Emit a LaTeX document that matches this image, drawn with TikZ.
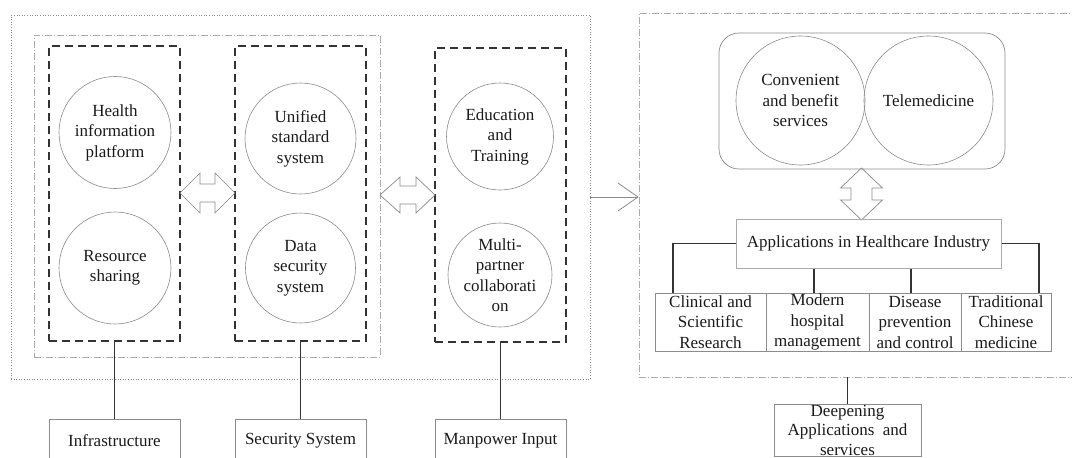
\documentclass[tikz,border=0pt]{standalone}
\usepackage{fontspec}
\setmainfont{Liberation Serif}
\usetikzlibrary{arrows.meta,calc}
\definecolor{conncol}{HTML}{333333}
\definecolor{circcol}{HTML}{8A8A8A}
\definecolor{boxcol}{HTML}{8C8C8C}
\definecolor{lightcol}{HTML}{ABABAB}
\definecolor{txtcol}{HTML}{1A1A1A}
\begin{document}
\begin{tikzpicture}[x=1pt,y=-1pt,
  every node/.style={font=\fontsize{17}{20.5}\selectfont, text=txtcol, inner sep=0pt, align=center},
  outerbox/.style={draw=boxcol, line width=0.6pt, dotted},
  dashdotbox/.style={draw=lightcol, line width=0.7pt, dash pattern=on 7pt off 2pt on 1pt off 2pt},
  dashbox/.style={draw=conncol, line width=1.8pt, dash pattern=on 8pt off 5pt},
  circ/.style={circle, draw=circcol, line width=0.6pt},
  plainbox/.style={draw=boxcol, line width=0.7pt, rectangle},
  appbox/.style={draw=lightcol, line width=1pt, rectangle},
  conn/.style={draw=conncol, line width=1.8pt},
  dblarrow/.style={draw=circcol, line width=0.7pt, line join=miter},
]
\useasboundingbox (0,0) rectangle (1072,458);

% ---------- left part ----------
\node[outerbox, minimum width=579, minimum height=364] (outer) at (300.5,197) {};
\node[dashdotbox, minimum width=346, minimum height=322] (inner) at (207,196) {};

\node[dashbox, minimum width=131, minimum height=295] (d1) at (114.5,193.5) {};
\node[dashbox, minimum width=131, minimum height=295] (d2) at (300.5,193.5) {};
\node[dashbox, minimum width=131, minimum height=294] (d3) at (500.5,195) {};

\node[circ, minimum size=112] (c1) at (115,132.5) {Health\\information\\platform};
\node[circ, minimum size=112] (c2) at (115,268) {Resource\\sharing};
\node[circ, minimum size=111] (c3) at (300.5,138.5) {Unified\\standard\\system};
\node[circ, minimum size=110] (c4) at (300.5,268) {Data\\security\\system};
\node[circ, minimum size=107] (c5) at (500,136.5) {Education\\and\\Training};
\node[circ, minimum size=104] (c6) at (500,275) {Multi-\\partner\\collaborati\\on};

% double arrows
\draw[dblarrow] (180,193) -- (200,173) -- (200,184) -- (215,184) -- (215,173) -- (235,193)
  -- (215,213) -- (215,202) -- (200,202) -- (200,213) -- cycle;
\draw[dblarrow] (380,195) -- (400,177) -- (400,186) -- (416,186) -- (416,177) -- (435,195)
  -- (416,213) -- (416,204) -- (400,204) -- (400,213) -- cycle;

\node[plainbox, minimum width=131, minimum height=43] (b1) at (114.5,440.5) {Infrastructure};
\node[plainbox, minimum width=131, minimum height=43] (b2) at (300.5,440.5) {Security System};
\node[plainbox, minimum width=131, minimum height=43] (b3) at (500.5,440.5) {Manpower Input};

\draw[conn] (d1.south) -- (b1.north);
\draw[conn] (d2.south) -- (b2.north);
\draw[conn] (d3.south) -- (b3.north);

% ---------- right part ----------
\node[dashdotbox, minimum width=446, minimum height=364] (rbox) at (862,195) {};

\draw[draw=circcol, line width=0.8pt, -{Straight Barb[length=20pt, width=28pt, line width=0.8pt]}]
  (outer.east) -- (outer.east -| rbox.west);

\node[draw=boxcol, line width=0.7pt, rounded corners=20pt, minimum width=286, minimum height=136] (rr) at (862,101) {};
\node[circ, minimum size=129] (conv) at (800.5,100.5) {Convenient\\and benefit\\services};
\node[circ, minimum size=129] (tele) at (928.5,100.5) {Telemedicine};

\draw[dblarrow] (861.5,168) -- (882.5,188) -- (872,188) -- (872,200) -- (882.5,200) -- (861.5,220)
  -- (840.5,200) -- (851,200) -- (851,188) -- (840.5,188) -- cycle;

\node[appbox, minimum width=265, minimum height=49] (apps) at (868.5,243.5) {Applications in Healthcare Industry};

\node[plainbox, minimum width=111, minimum height=58] (clin) at (710.5,322) {Clinical and\\Scientific\\Research};
\node[plainbox, minimum width=103, minimum height=58] (mod) at (817.5,322) {Modern\\hospital\\management};
\node[plainbox, minimum width=92, minimum height=58] (dis) at (915,322) {Disease\\prevention\\and control};
\node[plainbox, minimum width=90, minimum height=58] (tcm) at (1006,322) {Traditional\\Chinese\\medicine};

\coordinate (clintop) at ($(clin.north west)!0.162!(clin.north east)$);
\coordinate (modtop) at ($(mod.north west)!0.466!(mod.north east)$);
\coordinate (distop) at ($(dis.north west)!0.457!(dis.north east)$);
\coordinate (tcmtop) at ($(tcm.north west)!0.867!(tcm.north east)$);

\draw[conn] (apps.west) -| (clintop);
\draw[conn] (apps.east) -| (tcmtop);
\draw[conn] (modtop) -- (modtop |- apps.south);
\draw[conn] (distop) -- (distop |- apps.south);

\node[plainbox, minimum width=147, minimum height=52, font=\fontsize{17}{19.5}\selectfont] (deep) at (847.5,430) {Deepening\\Applications\ \ and\\services};
\draw[conn] (deep.north |- rbox.south) -- (deep.north);
\end{tikzpicture}
\end{document}
